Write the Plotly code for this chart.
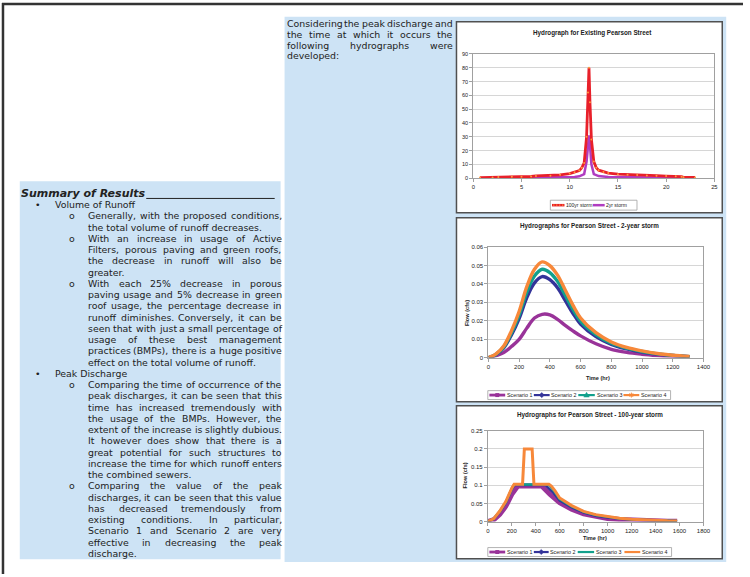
import plotly.graph_objects as go

W, H = 750, 577


def X(p):
    return p / W


def Y(p):
    return 1 - p / H


# ---------------- data: Hydrograph for Existing Pearson Street ----------------
hrs_100yr = [0.7, 2.0, 2.6, 4.0, 5.0, 6.0, 6.5, 8.0, 9.0, 10.0, 10.5, 11.0, 11.25, 11.5, 11.75, 11.9,
             12.0, 12.1, 12.25, 12.5, 12.75, 13.0, 13.5, 14.0, 15.0, 16.0, 17.0, 18.0, 19.0, 20.0,
             21.0, 21.6, 21.8, 23.0]
flow_100yr = [0.4, 0.5, 0.9, 1.0, 1.1, 1.2, 1.6, 1.8, 2.4, 3.3, 4.2, 5.5, 7.5, 11.0, 30.0, 62.0,
              80.0, 55.0, 28.0, 12.0, 7.5, 5.8, 4.5, 3.7, 2.9, 2.5, 2.2, 2.0, 1.8, 1.5,
              1.3, 1.1, 0.6, 0.5]
hrs_2yr = [2.0, 4.0, 6.0, 8.0, 9.0, 10.0, 10.5, 11.0, 11.5, 11.75, 11.9, 12.0, 12.1, 12.25, 12.5,
           13.0, 14.0, 15.0, 17.0, 19.0, 21.0, 22.0]
flow_2yr = [0.1, 0.2, 0.3, 0.4, 0.5, 0.7, 0.9, 1.3, 3.0, 12.0, 25.0, 31.0, 24.0, 10.0, 3.0,
            1.5, 0.9, 0.7, 0.5, 0.4, 0.3, 0.2]

# ---------------- data: Hydrographs for Pearson Street - 2-year storm ----------------
time_2yr = [0, 25, 50, 100, 150, 200, 250, 300, 350, 400, 450, 500, 550, 600, 700, 800, 900,
            1000, 1100, 1200, 1310]
s1_2yr = [0, 0.0003, 0.001, 0.0027, 0.006, 0.0099, 0.016, 0.0215, 0.0235, 0.0232, 0.0208, 0.0175,
          0.0145, 0.0118, 0.0075, 0.0045, 0.0028, 0.0018, 0.0011, 0.0006, 0.0003]
s2_2yr = [0, 0.0006, 0.0017, 0.0053, 0.0123, 0.0212, 0.0326, 0.0406, 0.044, 0.0423, 0.0379, 0.0311,
          0.0241, 0.0182, 0.0114, 0.0072, 0.0047, 0.003, 0.0019, 0.0011, 0.0005]
s3_2yr = [0, 0.0007, 0.0018, 0.0058, 0.0134, 0.0231, 0.0355, 0.0443, 0.048, 0.0462, 0.0414, 0.0339,
          0.0263, 0.0198, 0.0125, 0.0078, 0.0051, 0.0033, 0.002, 0.0012, 0.0005]
s4_2yr = [0, 0.0008, 0.002, 0.0063, 0.0145, 0.025, 0.0385, 0.048, 0.052, 0.050, 0.0448, 0.0367,
          0.0285, 0.0215, 0.0135, 0.0085, 0.0055, 0.0036, 0.0022, 0.0013, 0.0006]

# ---------------- data: Hydrographs for Pearson Street - 100-year storm ----------------
time_s1_100 = [0, 50, 100, 150, 200, 250, 450, 480, 520, 600, 700, 800, 900, 1000, 1100, 1200, 1300,
               1400, 1500, 1580]
flow_s1_100 = [0, 0.005, 0.02, 0.042, 0.075, 0.098, 0.098, 0.09, 0.075, 0.052, 0.034, 0.021, 0.013,
               0.0085, 0.0055, 0.0035, 0.0022, 0.0014, 0.0008, 0.0005]
time_s2_100 = [0, 50, 100, 150, 200, 225, 480, 510, 550, 600, 700, 800, 900, 1000, 1100, 1200, 1300,
               1400, 1500, 1580]
flow_s2_100 = [0, 0.007, 0.027, 0.052, 0.09, 0.101, 0.101, 0.092, 0.078, 0.058, 0.039, 0.025, 0.016,
               0.011, 0.0075, 0.0052, 0.0036, 0.0024, 0.0016, 0.001]
time_s3_100 = [0, 50, 100, 150, 200, 220, 500, 520, 550, 600, 700, 800, 900, 1000, 1100, 1200, 1300,
               1400, 1500, 1580]
flow_s3_100 = [0, 0.008, 0.028, 0.053, 0.09, 0.102, 0.102, 0.098, 0.086, 0.062, 0.042, 0.027, 0.018,
               0.0125, 0.0085, 0.006, 0.0042, 0.0028, 0.0019, 0.0013]
time_s4_100 = [0, 50, 100, 150, 200, 220, 290, 305, 370, 385, 510, 530, 560, 600, 700, 800, 900, 1000,
               1100, 1200, 1300, 1400, 1500, 1580]
flow_s4_100 = [0, 0.008, 0.029, 0.055, 0.092, 0.103, 0.103, 0.2, 0.2, 0.103, 0.103, 0.098, 0.085,
               0.065, 0.044, 0.028, 0.019, 0.013, 0.009, 0.0065, 0.0045, 0.003, 0.002, 0.0015]

scenario_names = ["Scenario 1", "Scenario 2", "Scenario 3", "Scenario 4"]
storm_names = ["100yr storm", "2yr storm"]

# ---------------- text ----------------
intro_lines = ["Considering the peak discharge and", "the time at which it occurs the",
               "following hydrographs were", "developed:"]
heading = "Summary of Results"
summary = [
    ("bullet", "Volume of Runoff"),
    ("sub", ["Generally, with the proposed conditions,", "the total volume of runoff decreases."]),
    ("sub", ["With an increase in usage of Active", "Filters, porous paving and green roofs,",
             "the decrease in runoff will also be", "greater."]),
    ("sub", ["With each 25% decrease in porous", "paving usage and 5% decrease in green",
             "roof usage, the percentage decrease in", "runoff diminishes. Conversely, it can be",
             "seen that with just a small percentage of", "usage of these best management",
             "practices (BMPs), there is a huge positive", "effect on the total volume of runoff."]),
    ("bullet", "Peak Discharge"),
    ("sub", ["Comparing the time of occurrence of the", "peak discharges, it can be seen that this",
             "time has increased tremendously with", "the usage of the BMPs. However, the",
             "extent of the increase is slightly dubious.", "It however does show that there is a",
             "great potential for such structures to", "increase the time for which runoff enters",
             "the combined sewers."]),
    ("sub", ["Comparing the value of the peak", "discharges, it can be seen that this value",
             "has decreased tremendously from", "existing conditions. In particular,",
             "Scenario 1 and Scenario 2 are very", "effective in decreasing the peak",
             "discharge."]),
]

# ---------------- styling ----------------
BLUE_BG = "#CDE3F5"
TXT = "#222222"
BODY_FONT = "DejaVu Sans"
BODY_SIZE = 9.4
CHART_FONT = "Liberation Sans"
C_S1, C_S2, C_S3, C_S4 = "#993399", "#333399", "#12A08C", "#F7883A"
C_100, C_100M, C_2 = "#E8202A", "#FF9A3C", "#B03CC0"

DV = {' ': 651, '!': 821, '%': 1946, '(': 799, ')': 799, ',': 651, '-': 739, '.': 651, ':': 690,
      'A': 1401, 'B': 1405, 'C': 1430, 'D': 1577, 'E': 1294, 'F': 1178, 'G': 1577, 'H': 1540,
      'I': 604, 'J': 604, 'K': 1343, 'L': 1141, 'M': 1767, 'N': 1532, 'O': 1612, 'P': 1235,
      'Q': 1612, 'R': 1423, 'S': 1300, 'T': 1251, 'U': 1499, 'V': 1401, 'W': 2025, 'X': 1403,
      'Y': 1251, 'Z': 1403,
      'a': 1255, 'b': 1300, 'c': 1126, 'd': 1300, 'e': 1260, 'f': 721, 'g': 1300, 'h': 1298,
      'i': 569, 'j': 569, 'k': 1186, 'l': 569, 'm': 1995, 'n': 1298, 'o': 1253, 'p': 1300,
      'q': 1300, 'r': 842, 's': 1067, 't': 803, 'u': 1298, 'v': 1212, 'w': 1675, 'x': 1212,
      'y': 1212, 'z': 1075}


def text_w(s, size):
    return sum(DV.get(c, 1303) for c in s) / 2048.0 * size


annotations = []
shapes = []


def ann(x, y, text, size=BODY_SIZE, family=BODY_FONT, color=TXT, xanchor="left", textangle=0):
    annotations.append(dict(x=X(x), y=Y(y), xref="paper", yref="paper", text=text, showarrow=False,
                            xanchor=xanchor, yanchor="middle", borderpad=0, textangle=textangle,
                            font=dict(family=family, size=size, color=color)))


def line_text(text, x0, x1, y, justify):
    words = text.split()
    if not justify or len(words) < 2:
        ann(x0, y, text)
        return
    widths = [text_w(w, BODY_SIZE) for w in words]
    gap = (x1 - x0 - sum(widths)) / (len(words) - 1)
    gap = max(gap, text_w(" ", BODY_SIZE) * 0.6)
    x = x0
    for w, wd in zip(words, widths):
        ann(x, y, w)
        x += wd + gap


def rect(x0, y0, x1, y1, fill=None, line=None, lw=1, layer="below"):
    shapes.append(dict(type="rect", xref="paper", yref="paper", x0=X(x0), x1=X(x1), y0=Y(y0), y1=Y(y1),
                       fillcolor=fill if fill else "rgba(0,0,0,0)",
                       line=dict(color=line if line else "rgba(0,0,0,0)", width=lw if line else 0),
                       layer=layer))


def seg(x0, y0, x1, y1, color, lw, layer="above"):
    shapes.append(dict(type="line", xref="paper", yref="paper", x0=X(x0), x1=X(x1), y0=Y(y0), y1=Y(y1),
                       line=dict(color=color, width=lw), layer=layer))


def path(d_pts, color, fill=None, lw=1):
    d = ""
    for cmd, (px_, py_) in d_pts:
        d += "%s %f,%f " % (cmd, X(px_), Y(py_))
    shapes.append(dict(type="path", xref="paper", yref="paper", path=d.strip(),
                       fillcolor=fill if fill else "rgba(0,0,0,0)", line=dict(color=color, width=lw),
                       layer="above"))


# ---------------- page background ----------------
rect(18, 180, 282, 562, fill=BLUE_BG)
rect(286, 14, 733, 565, fill=BLUE_BG)
seg(0, 1, 750, 1, "#333333", 2.5, layer="below")
seg(1, 0, 1, 577, "#333333", 2.5, layer="below")

# chart boxes
for (y0, y1) in [(19, 212), (217, 403), (407, 561.5)]:
    rect(460, y0, 729, y1, fill="#FFFFFF", line="#505050", lw=1.5)

# ---------------- right column intro text ----------------
for i, ln in enumerate(intro_lines):
    line_text(ln, 287, 455, 20.5 + 11.0 * i, justify=(i < len(intro_lines) - 1))

# ---------------- left column summary ----------------
LH = 11.37
y = 192.3
ann(18, y, "<b><i>%s</i></b>" % heading, size=11)
seg(146, 197.5, 276, 197.5, "#222222", 1)
y += LH
for kind, content in summary:
    if kind == "bullet":
        ann(36, y, "•", xanchor="center")
        ann(52.3, y, content)
        y += LH
    else:
        ann(71, y, "o", xanchor="center")
        for j, ln in enumerate(content):
            line_text(ln, 86, 282, y, justify=(j < len(content) - 1))
            y += LH

# ---------------- chart traces ----------------
traces = [
    go.Scatter(x=hrs_2yr, y=flow_2yr, mode="lines", line=dict(color=C_2, width=2.5),
               xaxis="x", yaxis="y", showlegend=False),
    go.Scatter(x=hrs_100yr, y=flow_100yr, mode="lines+markers", line=dict(color=C_100, width=2.8),
               marker=dict(color=C_100M, size=2), xaxis="x", yaxis="y", showlegend=False),
]
for tx, ty, col in [(time_2yr, s1_2yr, C_S1), (time_2yr, s2_2yr, C_S2), (time_2yr, s3_2yr, C_S3),
                    (time_2yr, s4_2yr, C_S4)]:
    traces.append(go.Scatter(x=tx, y=ty, mode="lines", line=dict(color=col, width=3.4, shape="spline"),
                             xaxis="x2", yaxis="y2", showlegend=False))
for tx, ty, col, lw in [(time_s1_100, flow_s1_100, C_S1, 5), (time_s2_100, flow_s2_100, C_S2, 2.5),
                        (time_s3_100, flow_s3_100, C_S3, 2.5), (time_s4_100, flow_s4_100, C_S4, 3)]:
    traces.append(go.Scatter(x=tx, y=ty, mode="lines", line=dict(color=col, width=lw),
                             xaxis="x3", yaxis="y3", showlegend=False))

fig = go.Figure(traces)


def ax(domain, rng, dtick, grid, size, anchor):
    return dict(domain=domain, range=rng, dtick=dtick, showgrid=grid, gridcolor="#D6D6D6", gridwidth=1,
                showline=True, linecolor="#A0A0A0", linewidth=1, mirror=True, ticks="outside", ticklen=3,
                tickcolor="#A0A0A0", zeroline=False, fixedrange=True, anchor=anchor,
                tickfont=dict(family=CHART_FONT, size=size, color=TXT))


fig.update_layout(
    width=W, height=H, margin=dict(l=0, r=0, t=0, b=0),
    paper_bgcolor="#FFFFFF", plot_bgcolor="#FFFFFF", showlegend=False, hovermode=False,
    xaxis=ax([X(477), X(721)], [0, 25], 5, False, 5.8, "y"),
    yaxis=ax([Y(177), Y(51.5)], [0, 90], 10, True, 5.5, "x"),
    xaxis2=ax([X(492.3), X(710)], [0, 1400], 200, False, 6, "y2"),
    yaxis2=ax([Y(358.3), Y(246.7)], [0, 0.06], 0.01, True, 6, "x2"),
    xaxis3=ax([X(491.7), X(710)], [0, 1800], 200, False, 6, "y3"),
    yaxis3=ax([Y(524), Y(432.3)], [0, 0.25], 0.05, True, 6, "x3"),
)

# ---------------- chart titles & axis titles ----------------
ann(598, 30, "<b>Hydrograph for Existing Pearson Street</b>", size=6.3, family=CHART_FONT, xanchor="center")
ann(595, 225.7, "<b>Hydrographs for Pearson Street - 2-year storm</b>", size=6.3, family=CHART_FONT,
    xanchor="center")
ann(595, 416, "<b>Hydrographs for Pearson Street - 100-year storm</b>", size=6.3, family=CHART_FONT,
    xanchor="center")
ann(603, 379, "<b>Time (hr)</b>", size=5.6, family=CHART_FONT, xanchor="center")
ann(600, 541, "<b>Time (hr)</b>", size=5.6, family=CHART_FONT, xanchor="center")
ann(470, 313, "<b>Flow (cfs)</b>", size=5.6, family=CHART_FONT, xanchor="center", textangle=-90)
ann(469, 477, "<b>Flow (cfs)</b>", size=5.6, family=CHART_FONT, xanchor="center", textangle=-90)

# ---------------- legends (drawn) ----------------
LEG = 5.3
# chart 1
rect(555, 199.3, 642.7, 209.3, line="#A0A0A0", lw=0.8, layer="above")
seg(556.7, 204.3, 569.3, 204.3, C_100, 2.5)
for xx in [558.5, 561.5, 564.5, 567.5]:
    rect(xx - 0.6, 203.7, xx + 0.6, 204.9, fill=C_100M, layer="above")
ann(570, 204.3, storm_names[0], size=5.0, family=CHART_FONT)
seg(598, 204.3, 610, 204.3, C_2, 2.5)
ann(610.8, 204.3, storm_names[1], size=5.0, family=CHART_FONT)


def scen_legend(yc, box, xs, marks):
    rect(box[0], yc - 4.5, box[1], yc + 4.5, line="#A0A0A0", lw=0.8, layer="above")
    cols = [C_S1, C_S2, C_S3, C_S4]
    for i, (x0, x1) in enumerate(xs):
        seg(x0, yc, x1, yc, cols[i], 2.2 if i != 0 else 2.8)
        cx = (x0 + x1) / 2
        m = marks[i]
        if m == "square":
            rect(cx - 2, yc - 2, cx + 2, yc + 2, fill=cols[i], layer="above")
        elif m == "diamond":
            path([("M", (cx, yc - 2.6)), ("L", (cx + 2.6, yc)), ("L", (cx, yc + 2.6)), ("L", (cx - 2.6, yc)),
                  ("Z", (cx, yc - 2.6))], cols[i], fill=cols[i], lw=0.5)
        elif m == "triangle":
            path([("M", (cx, yc - 2.8)), ("L", (cx + 2.8, yc + 2)), ("L", (cx - 2.8, yc + 2)),
                  ("Z", (cx, yc - 2.8))], cols[i], fill=cols[i], lw=0.5)
        elif m == "star":
            path([("M", (cx - 2.5, yc)), ("L", (cx + 2.5, yc)), ("M", (cx, yc - 2.5)), ("L", (cx, yc + 2.5)),
                  ("M", (cx - 1.8, yc - 1.8)), ("L", (cx + 1.8, yc + 1.8)), ("M", (cx - 1.8, yc + 1.8)),
                  ("L", (cx + 1.8, yc - 1.8))], cols[i], lw=1)
        ann(x1 + 0.8, yc, scenario_names[i], size=LEG, family=CHART_FONT)


scen_legend(396.2, (491.7, 676.7), [(493.3, 509.3), (538.3, 554.3), (583.3, 600), (629, 645)],
            ["square", "diamond", "triangle", "star"])
scen_legend(554.8, (491.7, 677.7), [(493.3, 509.3), (538.3, 553.3), (582.7, 599.3), (630, 646)],
            ["square", "diamond", None, None])

fig.update_layout(annotations=annotations, shapes=shapes)
fig.write_html("out.html", config={"displayModeBar": False, "staticPlot": True},
               post_script="document.body.style.margin='0px';")
